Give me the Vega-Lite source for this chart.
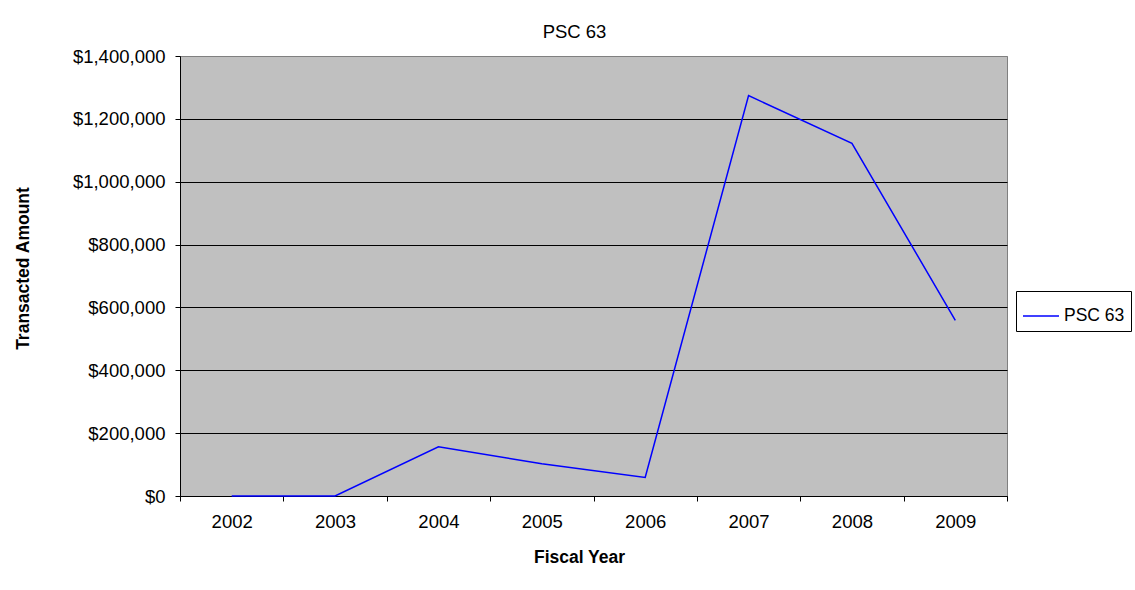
{
  "$schema": "https://vega.github.io/schema/vega-lite/v6.json",
  "autosize": "none",
  "width": 827,
  "height": 440,
  "padding": {"left": 180, "top": 56, "right": 128, "bottom": 94},
  "background": "white",
  "title": {
    "text": "PSC 63",
    "font": "Liberation Sans",
    "fontSize": 18.5,
    "fontWeight": "normal",
    "color": "#000000",
    "anchor": "middle",
    "frame": "group",
    "dx": -19,
    "baseline": "alphabetic",
    "offset": -9
  },
  "config": {
    "view": {"fill": "#c0c0c0", "stroke": "#808080", "strokeWidth": 1},
    "font": "Liberation Sans"
  },
  "data": {
    "values": [
      {"year": "2002", "amount": 0, "series": "PSC 63"},
      {"year": "2003", "amount": 0, "series": "PSC 63"},
      {"year": "2004", "amount": 156500, "series": "PSC 63"},
      {"year": "2005", "amount": 102500, "series": "PSC 63"},
      {"year": "2006", "amount": 59000, "series": "PSC 63"},
      {"year": "2007", "amount": 1274000, "series": "PSC 63"},
      {"year": "2008", "amount": 1122000, "series": "PSC 63"},
      {"year": "2009", "amount": 559000, "series": "PSC 63"}
    ]
  },
  "mark": {"type": "line", "strokeWidth": 1.5, "clip": false},
  "encoding": {
    "x": {
      "field": "year",
      "type": "ordinal",
      "scale": {"type": "band", "paddingInner": 0, "paddingOuter": 0},
      "axis": {
        "title": "Fiscal Year",
        "titleFont": "Liberation Sans",
        "titleFontSize": 17.5,
        "titleFontWeight": "bold",
        "titleColor": "#000000",
        "titleX": 399,
        "titleY": 66,
        "titleBaseline": "alphabetic",
        "titleAnchor": null,
        "labelFont": "Liberation Sans",
        "labelFontSize": 18.5,
        "labelColor": "#000000",
        "labelAngle": 0,
        "labelPadding": 11,
        "tickBand": "extent",
        "tickSize": 5,
        "tickColor": "#000000",
        "domainColor": "#000000",
        "grid": false
      }
    },
    "y": {
      "field": "amount",
      "type": "quantitative",
      "scale": {"domain": [0, 1400000], "nice": false, "zero": true},
      "axis": {
        "title": "Transacted Amount",
        "titleFont": "Liberation Sans",
        "titleFontSize": 17.5,
        "titleFontWeight": "bold",
        "titleColor": "#000000",
        "titleX": -152,
        "titleY": 212,
        "titleAngle": 270,
        "titleBaseline": "alphabetic",
        "titleAnchor": null,
        "values": [0, 200000, 400000, 600000, 800000, 1000000, 1200000, 1400000],
        "format": "$,d",
        "labelFont": "Liberation Sans",
        "labelFontSize": 18.5,
        "labelColor": "#000000",
        "labelPadding": 10,
        "tickSize": 5,
        "tickColor": "#000000",
        "domainColor": "#000000",
        "grid": true,
        "gridColor": {"condition": {"test": "datum.value == 1400000", "value": "#808080"}, "value": "#000000"},
        "gridOpacity": 1,
        "gridWidth": 1
      }
    },
    "color": {
      "field": "series",
      "type": "nominal",
      "scale": {"range": ["#0000ff"]},
      "legend": {
        "title": null,
        "orient": "none",
        "legendX": 836,
        "legendY": 235,
        "symbolType": "stroke",
        "symbolSize": 1296,
        "symbolStrokeWidth": 1.5,
        "labelFont": "Liberation Sans",
        "labelFontSize": 17.5,
        "labelColor": "#000000",
        "labelOffset": 4,
        "padding": 6,
        "strokeColor": "#000000",
        "fillColor": "#ffffff"
      }
    }
  }
}
